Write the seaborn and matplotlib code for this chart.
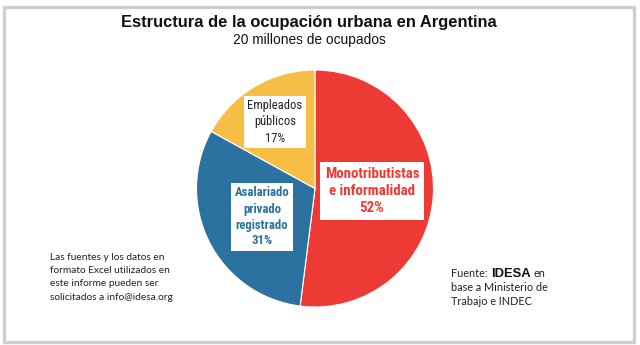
import matplotlib
matplotlib.use("Agg")
import matplotlib.pyplot as plt
from matplotlib.patches import Rectangle
from matplotlib import font_manager
import seaborn as sns

# Data
categories = ["Monotributistas\ne informalidad", "Asalariado\nprivado\nregistrado", "Empleados\npúblicos"]
shares = [52, 31, 17]
slice_colors = ["#EE3A35", "#2B72A0", "#F6BE45"]
label_colors = ["#EE3A35", "#2B72A0", "#222222"]
label_bold = [True, True, False]

title = "Estructura de la ocupación urbana en Argentina"
subtitle = "20 millones de ocupados"
note_lines = ["Las fuentes y los datos en", "formato Excel utilizados en",
              "este informe pueden ser", "solicitados a info@idesa.org"]
source_lines = ["base a Ministerio de", "Trabajo e INDEC"]

sns.set_theme(style="white")
palette = sns.color_palette(slice_colors)

# pick a narrow family for the slice labels
available = {f.name for f in font_manager.fontManager.ttflist}
narrow = next((f for f in ["Liberation Sans Narrow", "DejaVu Sans Condensed", "Roboto Condensed",
                           "Roboto", "Lato"] if f in available), "DejaVu Sans")

W, H = 640, 345
fig = plt.figure(figsize=(6.4, 3.45), dpi=100)
ax = fig.add_axes([0, 0, 1, 1])

def Y(y):
    return H - y

# pie
cx, cy, r = 315, 188.5, 118.5
ax.pie(shares, colors=palette, startangle=90, counterclock=False,
       center=(cx, Y(cy)), radius=r, frame=True,
       wedgeprops=dict(edgecolor="white", linewidth=0.8))
ax.set_xlim(0, W)
ax.set_ylim(0, H)
ax.set_aspect("auto")
ax.axis("off")

# outer frame
ax.add_patch(Rectangle((3.5, 3.5), 630, 335, fill=False, edgecolor="#CFCFCF", lw=2.4))

# slice labels
label_pos = [(372, 191), (262, 217), (275, 122)]
label_size = [10.7, 9.2, 9.0]
for cat, val, pos, col, b, fs in zip(categories, shares, label_pos, label_colors, label_bold, label_size):
    ax.text(pos[0], Y(pos[1]), f"{cat}\n{val}%", ha="center", va="center",
            color=col, fontsize=fs, fontweight="bold" if b else "normal",
            family=[narrow, "DejaVu Sans"], linespacing=1.3,
            bbox=dict(boxstyle="square,pad=0.3", fc="white", ec="none"))

# titles
ax.text(309, Y(22), title, ha="center", va="center", fontsize=11.85,
        fontweight="bold", family=["Liberation Sans", "DejaVu Sans"], color="#111111")
ax.text(309, Y(40), subtitle, ha="center", va="center", fontsize=9.9,
        family=["Liberation Sans", "DejaVu Sans"], color="#111111")

# footnote on the left
for i, line in enumerate(note_lines):
    ax.text(50, Y(260 + 13.2 * i), line, ha="left", va="baseline", fontsize=7.3,
            family=["Lato", "DejaVu Sans"], color="#222222")

# source note on the right
t1 = ax.text(451, Y(277), "Fuente:", ha="left", va="baseline", fontsize=7.8,
             family=["Lato", "DejaVu Sans"], color="#222222")
fig.canvas.draw()
bb = t1.get_window_extent().transformed(ax.transData.inverted())
t2 = ax.text(bb.x1 + 3, Y(277), "IDESA", ha="left", va="baseline",
             fontsize=9.4, fontweight="bold", family=["Liberation Sans", "DejaVu Sans"],
             color="#111111")
fig.canvas.draw()
bb2 = t2.get_window_extent().transformed(ax.transData.inverted())
ax.text(bb2.x1 + 3, Y(277), "en", ha="left", va="baseline", fontsize=7.8,
        family=["Lato", "DejaVu Sans"], color="#222222")
for i, line in enumerate(source_lines):
    ax.text(451, Y(291 + 14 * i), line, ha="left", va="baseline",
            fontsize=7.8, family=["Lato", "DejaVu Sans"], color="#222222")

fig.savefig("out.png", dpi=100, facecolor="white")
